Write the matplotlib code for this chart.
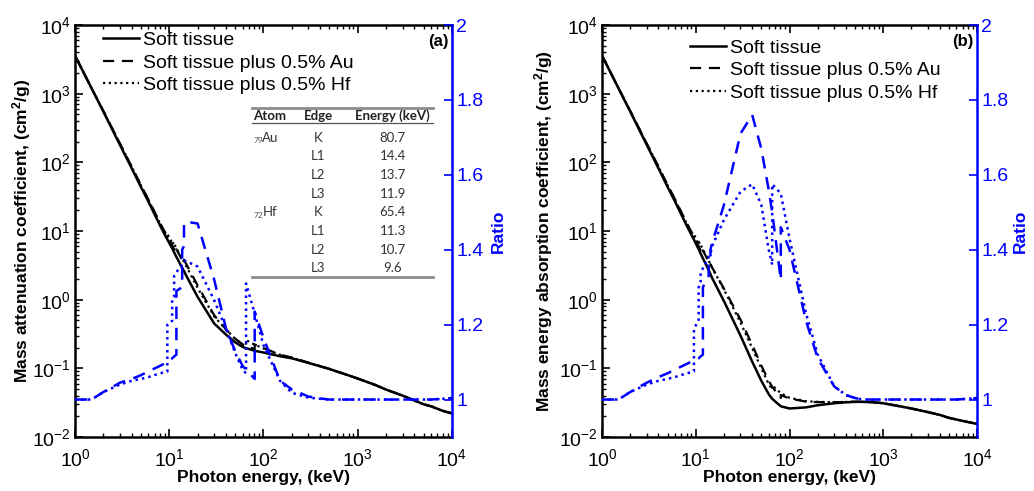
import numpy as np
import matplotlib.pyplot as plt
from matplotlib.ticker import LogLocator, NullFormatter, FixedLocator

plt.rcParams['font.family'] = ['Liberation Sans', 'DejaVu Sans']
plt.rcParams['mathtext.fontset'] = 'custom'
plt.rcParams['mathtext.rm'] = 'Liberation Sans'
plt.rcParams['mathtext.bf'] = 'Liberation Sans:bold'
plt.rcParams['mathtext.default'] = 'regular'

# photon energy grid (keV), absorption edges repeated for the jumps
energy = [1, 1.5, 2, 3, 4, 5, 6, 8, 9.56, 9.56, 10.74, 10.74, 11.27, 11.27,
          11.92, 11.92, 13.73, 13.73, 14.35, 14.35, 15, 20, 30, 40, 50, 60,
          65.35, 65.35, 80.72, 80.72, 100, 150, 200, 300, 400, 500, 600, 800,
          1000, 1500, 2000, 3000, 4000, 5000, 6000, 8000, 10000]

# soft tissue, mass attenuation coefficient (cm2/g)
tissue_mu = [3600, 1200, 550, 180, 82, 44, 27, 12, 7.5, 7.5, 5.6, 5.6, 4.9, 4.9,
             4.2, 4.2, 2.9, 2.9, 2.6, 2.6, 2.3, 1.1, 0.45, 0.31, 0.24, 0.205,
             0.197, 0.197, 0.18, 0.18, 0.17, 0.15, 0.14, 0.12, 0.107, 0.098, 0.09,
             0.079, 0.071, 0.058, 0.049, 0.04, 0.034, 0.03, 0.028, 0.024, 0.022]
# soft tissue, mass energy absorption coefficient (cm2/g)
tissue_muen = [3600, 1200, 550, 180, 82, 44, 27, 12, 7.5, 7.5, 5.4, 5.4, 4.7, 4.7,
               4.0, 4.0, 2.7, 2.7, 2.35, 2.35, 2.05, 0.95, 0.3, 0.125, 0.066, 0.042,
               0.036, 0.036, 0.028, 0.028, 0.026, 0.027, 0.029, 0.031, 0.032, 0.0325,
               0.0325, 0.032, 0.031, 0.028, 0.026, 0.023, 0.021, 0.019, 0.018,
               0.0165, 0.0155]

# ratios (tissue + 0.5% element) / tissue
ratio_mu_au = [1.0, 1.0, 1.02, 1.045, 1.055, 1.065, 1.075, 1.09, 1.10, 1.10, 1.11, 1.11,
               1.115, 1.115, 1.12, 1.29, 1.30, 1.40, 1.41, 1.47, 1.475, 1.47, 1.32,
               1.19, 1.13, 1.09, 1.08, 1.08, 1.055, 1.235, 1.165, 1.05, 1.027, 1.008,
               1.003, 1.0, 1.0, 1.0, 1.0, 1.0, 1.0, 1.0, 1.0, 1.0, 1.0, 1.002, 1.004]
ratio_mu_hf = [1.0, 1.0, 1.02, 1.04, 1.05, 1.055, 1.06, 1.07, 1.075, 1.20, 1.21, 1.27,
               1.275, 1.33, 1.34, 1.34, 1.36, 1.36, 1.37, 1.37, 1.37, 1.355, 1.265,
               1.19, 1.125, 1.08, 1.07, 1.31, 1.23, 1.23, 1.145, 1.05, 1.018, 1.005,
               1.002, 1.0, 1.0, 1.0, 1.0, 1.0, 1.0, 1.0, 1.0, 1.0, 1.0, 1.002, 1.004]
ratio_muen_au = [1.0, 1.0, 1.02, 1.045, 1.06, 1.07, 1.08, 1.095, 1.105, 1.105, 1.11, 1.11,
                 1.115, 1.115, 1.12, 1.30, 1.33, 1.36, 1.37, 1.40, 1.42, 1.52, 1.71,
                 1.76, 1.67, 1.56, 1.50, 1.50, 1.32, 1.46, 1.40, 1.21, 1.11, 1.035,
                 1.012, 1.004, 1.0, 1.0, 1.0, 1.0, 1.0, 1.0, 1.0, 1.0, 1.0, 1.002, 1.004]
ratio_muen_hf = [1.0, 1.0, 1.02, 1.04, 1.05, 1.055, 1.06, 1.07, 1.075, 1.19, 1.21, 1.30,
                 1.31, 1.34, 1.35, 1.35, 1.38, 1.38, 1.39, 1.39, 1.41, 1.48, 1.555,
                 1.575, 1.52, 1.40, 1.36, 1.575, 1.55, 1.55, 1.43, 1.23, 1.12, 1.035,
                 1.012, 1.004, 1.0, 1.0, 1.0, 1.0, 1.0, 1.0, 1.0, 1.0, 1.0, 1.002, 1.004]

legend_labels = ['Soft tissue', 'Soft tissue plus 0.5% Au', 'Soft tissue plus 0.5% Hf']

table_atoms = ['Au', '', '', '', 'Hf', '', '', '']
table_z = ['79', '', '', '', '72', '', '', '']
table_edges = ['K', 'L1', 'L2', 'L3', 'K', 'L1', 'L2', 'L3']
table_energy = ['80.7', '14.4', '13.7', '11.9', '65.4', '11.3', '10.7', '9.6']

BLUE = '#0000ff'
DASH = (0, (5, 3.5))
DOT = (0, (1, 1.6))
FS = 12.5
TICK_FS = 14
LEG_FS = 14


def panel(rect, tissue, r_au, r_hf, ylabel, tag, ylab_x, rlab_x, leg_x, leg_y):
    ax = fig.add_axes(rect)
    e = np.array(energy)
    t = np.array(tissue)
    ax.plot(e, t, color='k', lw=1.8, label=legend_labels[0])
    ax.plot(e, t * np.array(r_au), color='k', lw=1.6, ls=DASH, label=legend_labels[1])
    ax.plot(e, t * np.array(r_hf), color='k', lw=1.6, ls=DOT, label=legend_labels[2])
    ax.set_xscale('log')
    ax.set_yscale('log')
    ax.set_xlim(1, 1e4)
    ax.set_ylim(1e-2, 1e4)
    ax.xaxis.set_major_locator(LogLocator(base=10, numticks=10))
    ax.yaxis.set_major_locator(LogLocator(base=10, numticks=10))
    ax.xaxis.set_minor_locator(LogLocator(base=10, subs=np.arange(2, 10), numticks=20))
    ax.yaxis.set_minor_locator(LogLocator(base=10, subs=np.arange(2, 10), numticks=20))
    ax.yaxis.set_minor_formatter(NullFormatter())
    ax.xaxis.set_minor_formatter(NullFormatter())
    ax.tick_params(which='both', direction='in', top=True, right=False, labelsize=TICK_FS)
    ax.tick_params(which='major', length=6, width=1.2)
    ax.tick_params(which='minor', length=3, width=1)
    ax.tick_params(axis='x', pad=8)
    ax.tick_params(axis='y', pad=3)
    for s in ax.spines.values():
        s.set_linewidth(1.8)
    ax.spines['right'].set_visible(False)
    ax.set_xlabel('Photon energy, (keV)', fontsize=FS, fontweight='bold')
    ax.xaxis.set_label_coords(0.5, -0.08)
    ax.set_ylabel(ylabel, fontsize=FS, fontweight='bold')
    ax.yaxis.set_label_coords(ylab_x, 0.5)
    ax.legend(loc='upper left', bbox_to_anchor=(leg_x, leg_y), frameon=False,
              fontsize=LEG_FS, handlelength=1.85, handletextpad=0.2, labelspacing=0.25,
              borderaxespad=0, borderpad=0)
    ax.text(0.99, 0.959, tag, transform=ax.transAxes, ha='right', va='center',
            fontsize=FS - 0.5, fontweight='bold')

    ax2 = ax.twinx()
    ax2.plot(e, r_au, color=BLUE, lw=1.8, ls=DASH)
    ax2.plot(e, r_hf, color=BLUE, lw=1.8, ls=DOT)
    ax2.set_xlim(1, 1e4)
    ax2.set_ylim(0.9, 2.0)
    ax2.yaxis.set_major_locator(FixedLocator([1, 1.2, 1.4, 1.6, 1.8, 2]))
    ax2.set_yticklabels(['1', '1.2', '1.4', '1.6', '1.8', '2'])
    ax2.tick_params(axis='y', which='major', direction='in', length=6, width=1.2,
                    colors=BLUE, labelsize=TICK_FS, pad=3)
    for s in ['left', 'top', 'bottom']:
        ax2.spines[s].set_visible(False)
    ax2.spines['right'].set_color(BLUE)
    ax2.spines['right'].set_linewidth(1.8)
    ax2.set_ylabel('Ratio', color=BLUE, fontsize=FS, fontweight='bold')
    ax2.yaxis.set_label_coords(rlab_x, 0.5)
    return ax, ax2


fig = plt.figure(figsize=(10.34, 4.91), dpi=100)

ax_a, ax_a2 = panel([0.0725, 0.110, 0.3646, 0.839], tissue_mu, ratio_mu_au, ratio_mu_hf,
                    r'Mass attenuation coefficient, (cm$^{\mathbf{2}}$/g)', '(a)',
                    -0.11, 1.102, 0.074, 0.984)
ax_b, ax_b2 = panel([0.5822, 0.110, 0.3627, 0.839], tissue_muen, ratio_muen_au, ratio_muen_hf,
                    r'Mass energy absorption coefficient, (cm$^{\mathbf{2}}$/g)', '(b)',
                    -0.124, 1.095, 0.235, 0.966)

# inset table of absorption edges in panel (a)
tc = '#333333'
tfam = ['Lato', 'DejaVu Sans']
tr = ax_a2.transAxes
ax_a2.plot([0.469, 0.950], [0.7985, 0.7985], transform=tr, color='#8c8c8c', lw=2, clip_on=False)
ax_a2.plot([0.469, 0.950], [0.762, 0.762], transform=tr, color='#555555', lw=0.9, clip_on=False)
ax_a2.plot([0.469, 0.950], [0.388, 0.388], transform=tr, color='#8c8c8c', lw=2, clip_on=False)
for x, h in zip([0.517, 0.645, 0.843], ['Atom', 'Edge', 'Energy (keV)']):
    ax_a2.text(x, 0.780, h, transform=tr, ha='center', va='center', fontsize=9.5,
               fontweight='bold', color='#222222', family=tfam)
for i in range(len(table_edges)):
    y = 0.727 - i * 0.0454
    if table_atoms[i]:
        ax_a2.text(0.473, y - 0.008, table_z[i], transform=tr, ha='left', va='center',
                   fontsize=6, color='#555555', family=tfam)
        ax_a2.text(0.497, y, table_atoms[i], transform=tr, ha='left', va='center',
                   fontsize=9.5, color=tc, family=tfam)
    ax_a2.text(0.645, y, table_edges[i], transform=tr, ha='center', va='center',
               fontsize=9.5, color=tc, family=tfam)
    ax_a2.text(0.843, y, table_energy[i], transform=tr, ha='center', va='center',
               fontsize=9.5, color=tc, family=tfam)

fig.savefig('out.png', dpi=100)
